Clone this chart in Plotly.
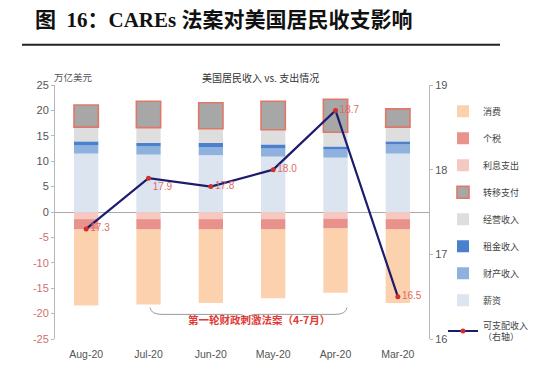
import plotly.graph_objects as go

# ---------------- data ----------------
months = ["Aug-20", "Jul-20", "Jun-20", "May-20", "Apr-20", "Mar-20"]
wages = [11.5, 11.3, 11.2, 10.9, 10.7, 11.5]            # 薪资
property_income = [1.6, 1.6, 1.6, 1.6, 1.6, 1.8]        # 财产收入
rental_income = [0.8, 0.7, 0.8, 0.8, 0.6, 0.6]          # 租金收入
business_income = [2.8, 3.0, 2.8, 2.9, 2.8, 2.8]        # 经营收入
transfers = [4.35, 5.2, 5.1, 5.6, 6.5, 3.6]             # 转移支付
interest = [-1.4, -1.4, -1.4, -1.4, -1.3, -1.4]         # 利息支出
personal_tax = [-2.05, -2.05, -2.05, -2.05, -1.95, -2.05]  # 个税
consumption = [-14.95, -14.75, -14.45, -13.55, -12.65, -14.45]  # 消费
disposable = [17.3, 17.9, 17.8, 18.0, 18.7, 16.5]       # 可支配收入（右轴）
disposable_labels = ["17.3", "17.9", "17.8", "18.0", "18.7", "16.5"]
label_pos = ["middle right", "bottom right", "middle right", "middle right", "middle right", "middle right"]

left_ticks = [25, 20, 15, 10, 5, 0, -5, -10, -15, -20, -25]
right_ticks = [16, 17, 18, 19]

# ---------------- geometry helpers (pixel -> paper) ----------------
W, H = 550, 372
L, R, T, B = 55, 429, 85, 343


def px(x):
    return (x - L) / (R - L)


def py(y):
    return (B - y) / (B - T)


FONT = "Liberation Sans, Noto Sans CJK SC, sans-serif"
CJK = "Noto Sans CJK SC, sans-serif"

fig = go.Figure()

bar_specs = [
    ("薪资", wages, "#dce4f0", None, 8),
    ("财产收入", property_income, "#8fb1de", None, 7),
    ("租金收入", rental_income, "#4a80cc", None, 6),
    ("经营收入", business_income, "#dedede", None, 5),
    ("转移支付", transfers, "#a7a7a7", "#e07868", 4),
    ("利息支出", interest, "#f5c9c1", None, 3),
    ("个税", personal_tax, "#e8928b", None, 2),
    ("消费", consumption, "#fcd1ae", None, 1),
]

for name, vals, color, lcolor, rank in bar_specs:
    fig.add_trace(go.Bar(
        x=months, y=vals, name=name,
        marker=dict(color=color,
                    line=dict(color=lcolor if lcolor else color, width=1.6 if lcolor else 0)),
        legendrank=rank, legendgroup=name,
    ))

fig.add_trace(go.Scatter(
    x=months, y=disposable, yaxis="y2", name="可支配收入<br>（右轴）",
    mode="lines+markers+text",
    line=dict(color="#1c1c6c", width=2.2),
    marker=dict(color="#d0302c", size=5),
    text=disposable_labels, textposition=label_pos,
    textfont=dict(color="#e06a66", size=10, family=FONT),
    legendrank=9, legendgroup="line", cliponaxis=False,
))

# brace below the CARES months
def P(x, y):
    return f"{px(x):.4f},{py(y):.4f}"

brace = (f"M {P(150,311)} Q {P(151,318)} {P(162,318)} L {P(238,318)} "
         f"Q {P(246,318)} {P(247,324)} Q {P(248,318)} {P(256,318)} "
         f"L {P(335,318)} Q {P(346,318)} {P(347,311)}")

fig.update_layout(
    width=W, height=H,
    margin=dict(l=L, r=W - R, t=T, b=H - B, pad=0),
    paper_bgcolor="white", plot_bgcolor="white",
    barmode="relative", bargap=0.61,
    font=dict(family=FONT, size=10, color="#555"),
    xaxis=dict(type="category", showline=False, ticks="outside", ticklen=5,
               tickcolor="rgba(0,0,0,0)", showgrid=False,
               tickfont=dict(size=10.5, color="#555"), range=[-0.5, 5.5]),
    yaxis=dict(range=[-25, 25], tickvals=left_ticks,
               ticktext=[(f'<span style="color:#d07070">{v}</span>' if v < 0 else str(v)) for v in left_ticks],
               showgrid=False, showline=True, linecolor="#b8b8b8", linewidth=1,
               ticks="outside", ticklen=3, tickcolor="#b8b8b8",
               zeroline=True, zerolinecolor="#aaaaaa", zerolinewidth=1,
               tickfont=dict(size=11, color="#555")),
    yaxis2=dict(range=[16, 19], overlaying="y", side="right", tickvals=right_ticks,
                ticktext=[str(v) for v in right_ticks],
                showgrid=False, showline=True, linecolor="#b8b8b8", linewidth=1,
                ticks="outside", ticklen=3, tickcolor="#b8b8b8", zeroline=False,
                tickfont=dict(size=11, color="#555")),
    legend=dict(x=px(443), y=py(97), xanchor="left", yanchor="top",
                traceorder="grouped", tracegroupgap=8, itemwidth=30,
                font=dict(family=CJK, size=9, color="#444"),
                bgcolor="rgba(0,0,0,0)"),
    shapes=[
        dict(type="line", xref="paper", yref="paper", x0=px(22), x1=px(500),
             y0=py(44), y1=py(44), line=dict(color="#222", width=2)),
        dict(type="path", xref="paper", yref="paper", path=brace,
             line=dict(color="#9a9a9a", width=1)),
    ],
    annotations=[
        dict(text="<b>图  16：CAREs 法案对美国居民收支影响</b>", xref="paper", yref="paper",
             x=px(33), y=py(19), xanchor="left", yanchor="middle", showarrow=False,
             font=dict(family="Liberation Serif, Noto Sans CJK SC, serif", size=21, color="#111")),
        dict(text="美国居民收入 vs. 支出情况", xref="paper", yref="paper",
             x=px(260), y=py(68), showarrow=False,
             font=dict(family=CJK, size=10, color="#333")),
        dict(text="万亿美元", xref="paper", yref="paper",
             x=px(52), y=py(68), showarrow=False,
             font=dict(family=CJK, size=9.5, color="#555")),
        dict(text="<b>第一轮财政刺激法案（4-7月）</b>", xref="paper", yref="paper",
             x=px(259), y=py(333), showarrow=False,
             font=dict(family=CJK, size=10.5, color="#e03a36")),
    ],
)

fig.write_html("out.html", config={"displayModeBar": False},
               post_script="document.body.style.margin='0px';")
